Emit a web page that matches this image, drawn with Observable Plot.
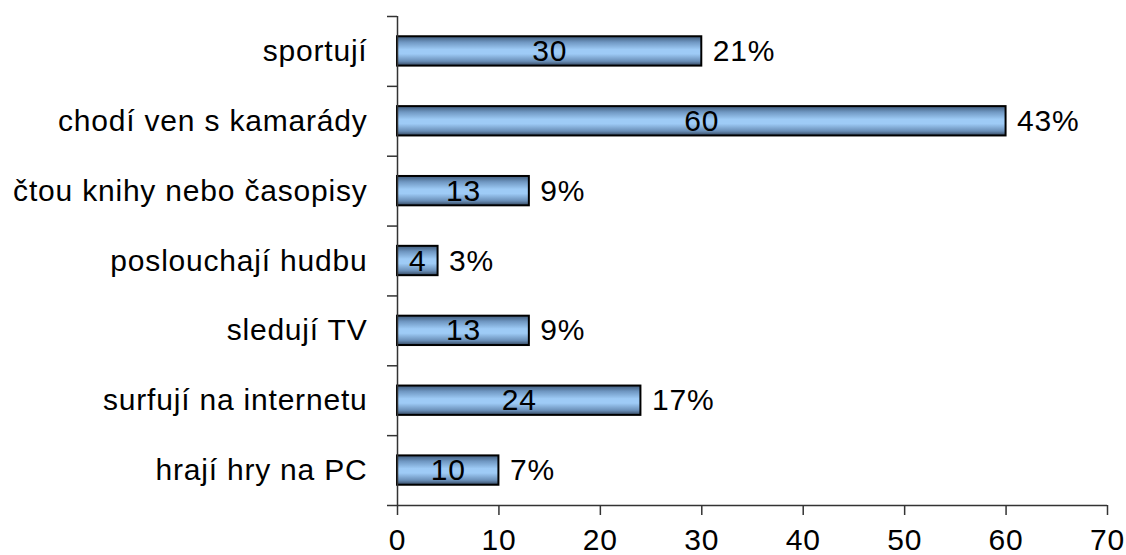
<!DOCTYPE html>
<html>
<head>
<meta charset="utf-8">
<script src="https://cdn.jsdelivr.net/npm/d3@7"></script>
<script src="https://cdn.jsdelivr.net/npm/@observablehq/plot@0.6"></script>
<style>
  html, body { margin: 0; padding: 0; background: #fff; }
  #chart svg { display: block; font-family: "Liberation Sans", Arial, sans-serif; letter-spacing: 0.8px; }
</style>
</head>
<body>
<div id="chart"></div>
<script>
const categories = ["sportují", "chodí ven s kamarády", "čtou knihy nebo časopisy", "poslouchají hudbu", "sledují TV", "surfují na internetu", "hrají hry na PC"];
const values = [30, 60, 13, 4, 13, 24, 10];
const percents = [21, 43, 9, 3, 9, 17, 7];
const xTicks = [0, 10, 20, 30, 40, 50, 60, 70];

const rows = categories.map((c, i) => ({cat: c, i, value: values[i], pct: percents[i]}));
const boundaries = d3.range(categories.length + 1);

const fs = 30;
const plot = Plot.plot({
  width: 1126,
  height: 555,
  marginLeft: 397,
  marginRight: 19,
  marginTop: 16,
  marginBottom: 50,
  style: {fontSize: fs + "px", fontFamily: "'Liberation Sans', Arial, sans-serif", color: "#000", background: "#fff"},
  x: {domain: [0, 70], label: null},
  y: {domain: [0, categories.length], reverse: true, label: null},
  marks: [
    Plot.rect(rows, {
      x1: 0, x2: "value",
      y1: d => d.i + 0.29, y2: d => d.i + 0.71,
      fill: "url(#barGrad)", stroke: "#000", strokeWidth: 2
    }),
    Plot.ruleX([0], {y1: 0, y2: categories.length, stroke: "#333", strokeWidth: 1.5}),
    Plot.ruleY([categories.length], {stroke: "#333", strokeWidth: 1.5}),
    Plot.axisY(boundaries, {tickSize: 10, tickFormat: () => "", label: null, stroke: "#333", strokeWidth: 1.5}),
    Plot.axisX(xTicks, {tickSize: 10, tickPadding: 13, label: null, fontSize: fs, stroke: "#333", strokeWidth: 1.5, fill: "#000"}),
    Plot.text(rows, {x: 0, y: d => d.i + 0.5, text: "cat", textAnchor: "end", dx: -30, fontSize: fs, fill: "#000"}),
    Plot.text(rows, {x: d => d.value / 2, y: d => d.i + 0.5, text: d => String(d.value), fontSize: fs, fill: "#000"}),
    Plot.text(rows, {x: "value", y: d => d.i + 0.5, text: d => d.pct + "%", textAnchor: "start", dx: 11, fontSize: fs, fill: "#000"})
  ]
});

const svg = d3.select(plot);
const defs = svg.insert("defs", ":first-child");
const g = defs.append("linearGradient").attr("id", "barGrad").attr("x1", 0).attr("y1", 0).attr("x2", 0).attr("y2", 1);
[[0, "#3f5a7a"], [0.2, "#6f97c2"], [0.45, "#9ecbf6"], [0.6, "#9ecbf6"], [0.85, "#6a8fb8"], [1, "#34475f"]]
  .forEach(([o, c]) => g.append("stop").attr("offset", o).attr("stop-color", c));

document.getElementById("chart").appendChild(plot);
</script>
</body>
</html>
